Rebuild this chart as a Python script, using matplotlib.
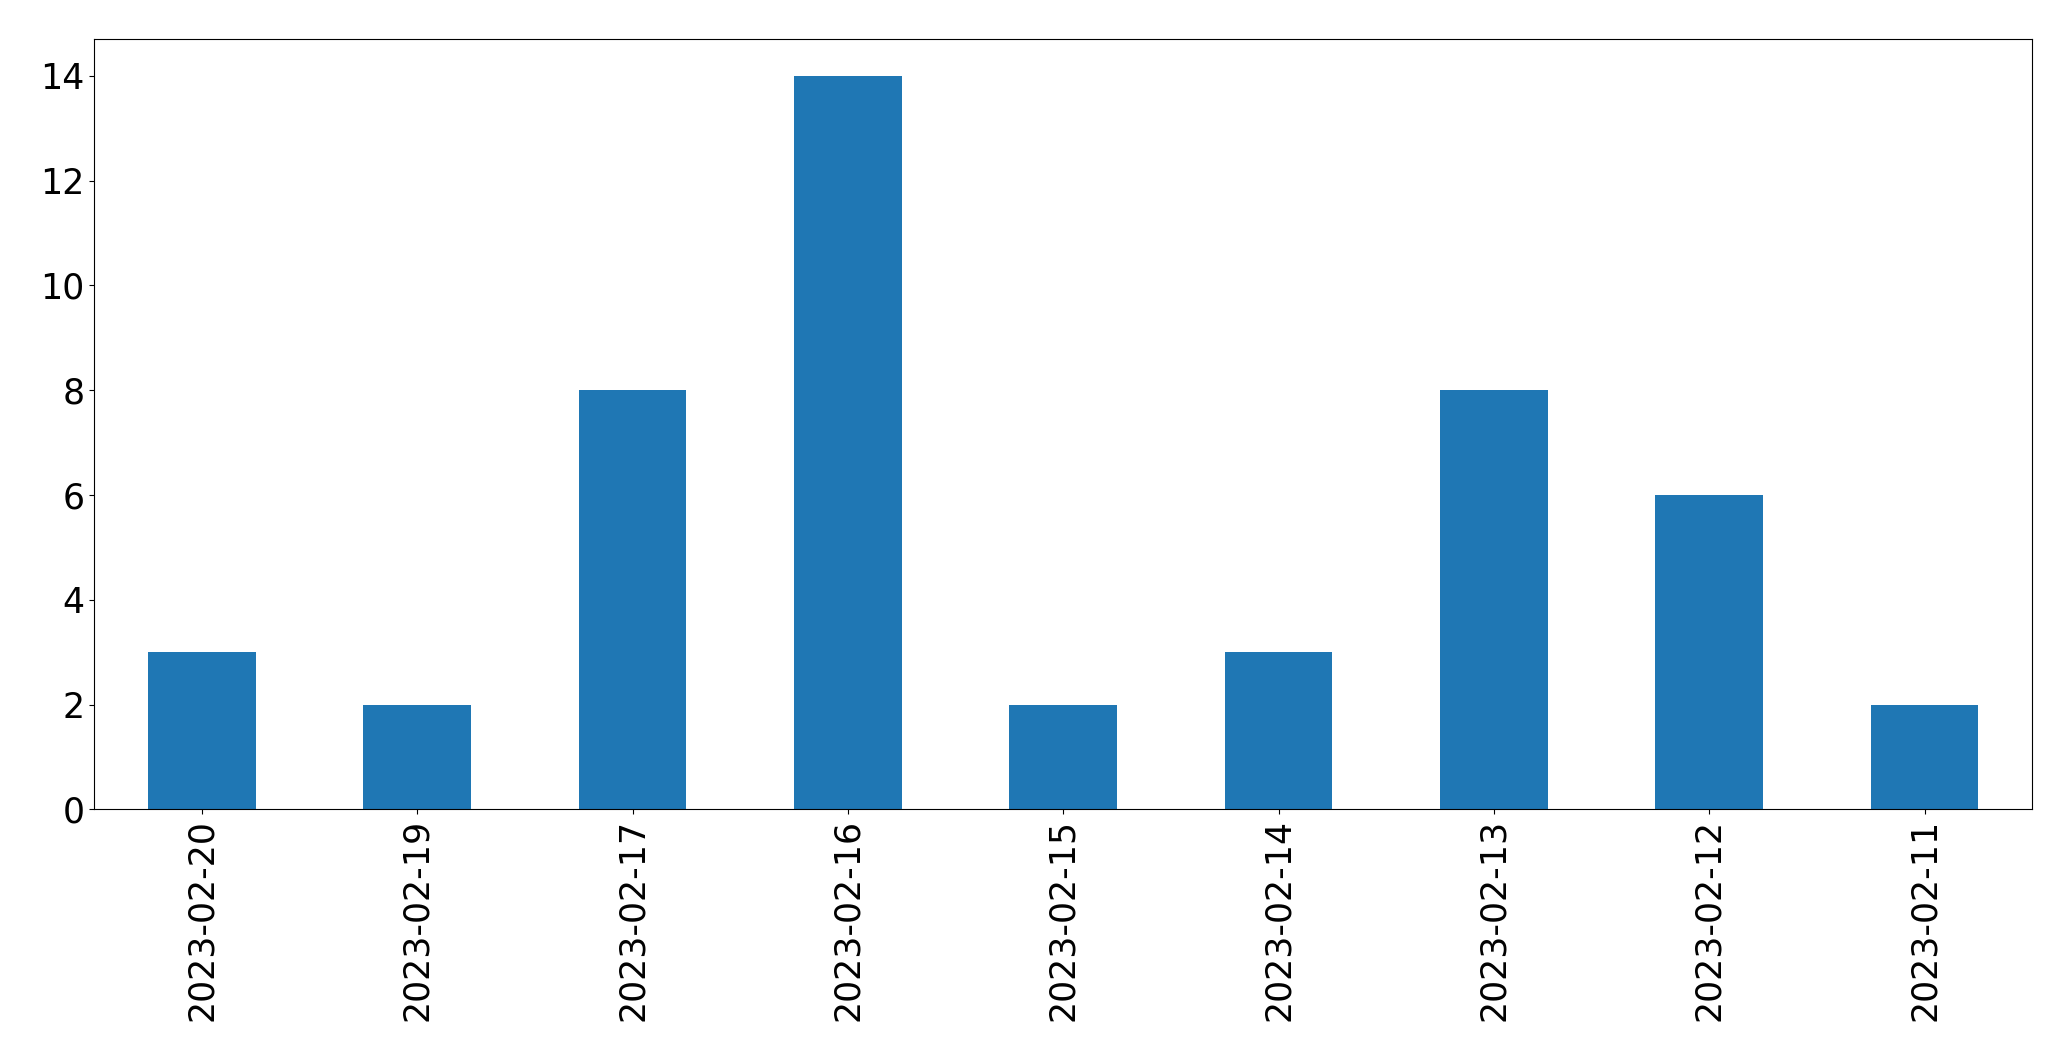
import matplotlib
matplotlib.use("Agg")
import matplotlib.pyplot as plt
import pandas as pd

dates = ["2023-02-20", "2023-02-19", "2023-02-17", "2023-02-16", "2023-02-15",
         "2023-02-14", "2023-02-13", "2023-02-12", "2023-02-11"]
counts = [3, 2, 8, 14, 2, 3, 8, 6, 2]

s = pd.Series(counts, index=dates)

fig = plt.figure(figsize=(20.71, 10.61), dpi=100)
ax = fig.add_axes([94.3 / 2071, 1 - 809.3 / 1061, (2032.3 - 94.3) / 2071, (809.3 - 39.3) / 1061])
s.plot(kind="bar", ax=ax, color="#1f77b4")
ax.tick_params(axis="both", labelsize=25)

fig.savefig("out.png", dpi=100)
